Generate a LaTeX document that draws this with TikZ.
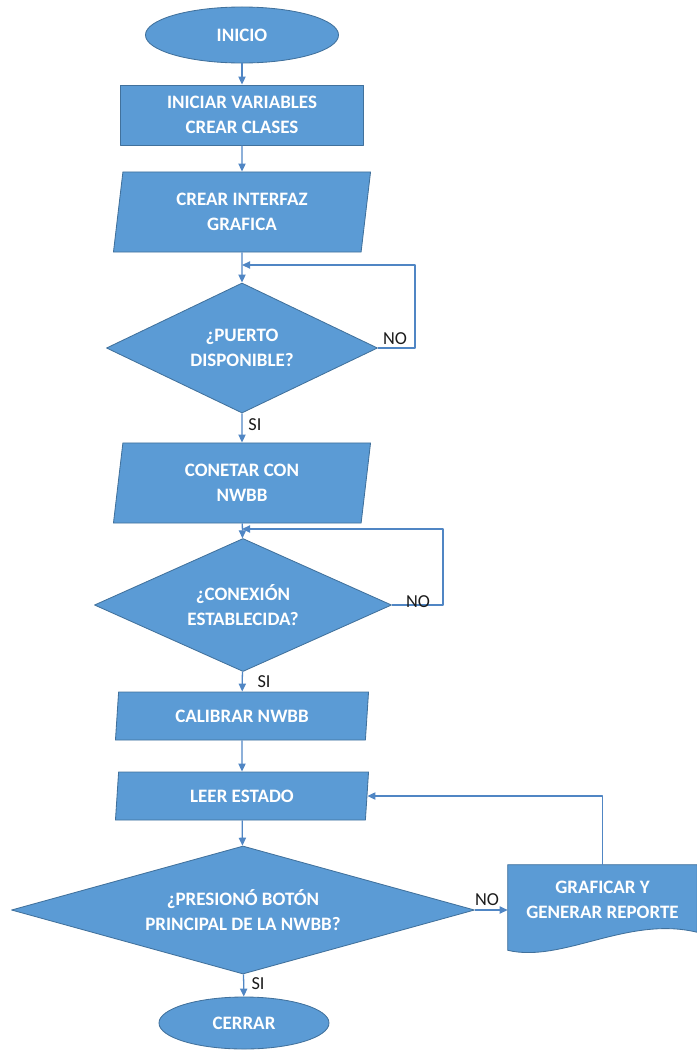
\documentclass[tikz,border=0pt]{standalone}
\usepackage{fontspec}
\setmainfont{Carlito}
\usepackage{tikz}
\usetikzlibrary{arrows.meta, calc, shapes.geometric, backgrounds}
\definecolor{boxblue}{HTML}{5B9BD5}
\definecolor{boxedge}{HTML}{41719C}
\definecolor{wire}{HTML}{5086C4}
\definecolor{ink}{HTML}{1B1B1B}

\begin{document}
\begin{tikzpicture}[x=0.025cm, y=0.025cm, line join=round,
    base/.style={fill=boxblue, draw=boxedge, line width=0.6pt, text=white, align=center,
                 font=\fontsize{13.5}{18}\selectfont\bfseries, inner sep=0pt},
    term/.style={base, ellipse},
    proc/.style={base, rectangle},
    io/.style={base, trapezium, trapezium left angle=76, trapezium right angle=104,
               trapezium stretches body},
    dec/.style={base, diamond},
    docbox/.style={rectangle, text=white, align=center, inner sep=0pt,
                   font=\fontsize{13.5}{18}\selectfont\bfseries},
    lbl/.style={font=\fontsize{13}{15}\selectfont, text=ink, inner sep=1pt},
    ar/.style={-{Triangle[length=2mm, width=1.8mm]}, line width=0.9pt, wire}]
  \useasboundingbox (0,0) rectangle (697,-1053);
  \node[term, minimum width=4.825cm, minimum height=1.4cm] (inicio) at (242,-35) {INICIO};
  \node[proc, minimum width=6.075cm, minimum height=1.5cm] (vars) at (242,-115) {INICIAR VARIABLES\\CREAR CLASES};
  \node[io, minimum width=6.425cm, minimum height=2cm] (gui) at (242,-212) {CREAR INTERFAZ\\GRAFICA};
  \node[dec, aspect=2.1, minimum width=6.775cm, minimum height=3.25cm] (d1) at (242,-348) {¿PUERTO\\DISPONIBLE?};
  \node[io, minimum width=6.425cm, minimum height=2cm] (conn) at (242,-483) {CONETAR CON\\NWBB};
  \node[dec, aspect=2.2, minimum width=7.425cm, minimum height=3.325cm] (d2) at (243,-605) {¿CONEXIÓN\\ESTABLECIDA?};
  \node[io, minimum width=6.325cm, minimum height=1.2cm] (cal) at (242,-716) {CALIBRAR NWBB};
  \node[io, minimum width=6.325cm, minimum height=1.2cm] (leer) at (242,-796) {LEER ESTADO};
  \node[dec, aspect=3.6, minimum width=11.575cm, minimum height=3.2cm] (d3) at (243,-910) {¿PRESIONÓ BOTÓN\\PRINCIPAL DE LA NWBB?};
  \node[docbox, minimum width=4.725cm, minimum height=1.75cm] (doc) at (602.5,-900) {GRAFICAR Y\\GENERAR REPORTE};
  \node[term, minimum width=4.25cm, minimum height=1.3cm] (cerrar) at (244,-1023) {CERRAR};
  \begin{scope}[on background layer]
    \filldraw[fill=boxblue, draw=boxedge, line width=0.6pt] (doc.north west) -- (doc.north east)
      -- ($(doc.south east)+(0,3)$) .. controls ($(doc.south east)+(-70,20)$) and ($(doc.south west)+(55,-28)$)
      .. ($(doc.south west)+(0,-15)$) -- cycle;
  \end{scope}
  % loop-back points
  \coordinate (j1) at (242,-265);
  \coordinate (r1) at (415,-265);
  \coordinate (j2) at (242,-529);
  \coordinate (r2) at (443,-529);
  \draw[ar] (inicio) -- (vars);
  \draw[ar] (vars) -- (gui);
  \draw[ar] (gui) -- (d1);
  \draw[ar] (d1.east) -| (r1) -- (j1);
  \draw[ar] (d1) -- (conn);
  \draw[ar] (conn) -- (d2);
  \draw[ar] (d2.east) -| (r2) -- (j2);
  \draw[ar] (d2) -- (cal);
  \draw[ar] (cal) -- (leer);
  \draw[ar] (leer) -- (d3);
  \draw[ar] (d3.east) -- (d3.east -| doc.west);
  \draw[ar] (doc.north) |- (leer.east);
  \draw[ar] (d3) -- (cerrar);
  \node[lbl] (no1) at (395,-339) {NO};
  \node[lbl] (si1) at (255,-425) {SI};
  \node[lbl] (no2) at (418,-602) {NO};
  \node[lbl] (si2) at (264,-682) {SI};
  \node[lbl] (no3) at (487,-900) {NO};
  \node[lbl] (si3) at (258,-984) {SI};
\end{tikzpicture}
\end{document}
